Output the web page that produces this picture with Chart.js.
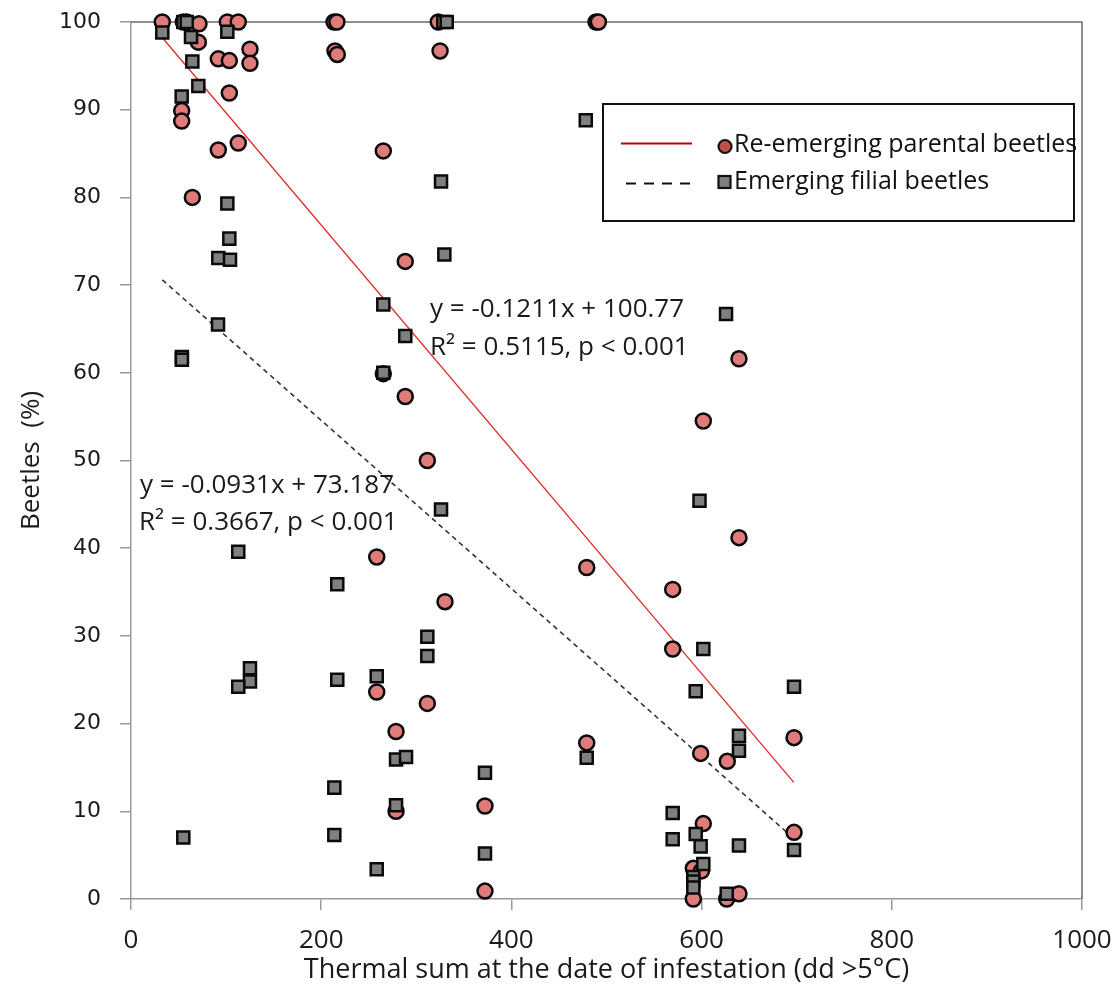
<!DOCTYPE html>
<html>
<head>
<meta charset="utf-8">
<script src="https://cdn.jsdelivr.net/npm/chart.js@4.4.0/dist/chart.umd.min.js"></script>
<style>
html,body{margin:0;padding:0;background:#fff;}
#c{display:block;}
</style>
</head>
<body>
<canvas id="c" width="1119" height="999"></canvas>
<script>
// ---- data ----
const parentalX = [32.9,55,58.6,71.5,101.3,112.8,213.5,216.5,323.1,489,491.5,70.8,91.8,103.4,125.1,125.1,103.4,112.8,91.8,64.5,53.3,53.3,214.5,216.9,325,265.3,288.4,265.3,288.4,311.6,258.4,330.2,258.4,311.6,278.7,278.7,479.2,479.2,372.2,372.2,639.3,601.8,639.3,569.6,569.6,697.2,599,627,601.8,697.2,591.3,599.9,591.3,626.4,639.3];
const parentalY = [100,100,100,99.8,100,100,100,100,100,100,100,97.7,95.8,95.6,96.9,95.3,91.9,86.2,85.4,80.0,89.9,88.7,96.7,96.3,96.7,85.3,72.7,59.9,57.3,50.0,39.0,33.9,23.6,22.3,19.1,10.0,37.8,17.8,10.6,0.9,61.6,54.5,41.2,35.3,28.5,18.4,16.6,15.7,8.6,7.6,3.5,3.2,0,0,0.6];
const filialX = [32.9,101.3,55,58.6,63.1,64.5,70.8,53.3,101.3,103.4,91.8,104.1,91.5,53.5,53.5,112.8,125.1,125.1,112.8,55,216.9,216.9,213.8,213.8,258.4,258.4,278.7,289.2,278.7,265.3,288.4,265.3,311.6,311.6,326,329.5,326,328.4,332,478.2,479.2,372.2,372.2,625.7,597.8,601.8,593.8,697.2,639.3,639.3,569.6,569.6,593.8,599,639.3,697.2,601.8,591.3,591.3,591.3,626.4];
const filialY = [98.8,98.9,100,100,98.3,95.5,92.7,91.5,79.3,75.3,73.1,72.9,65.5,61.8,61.5,39.6,26.3,24.8,24.2,7.0,35.9,25.0,12.7,7.3,25.4,3.4,15.9,16.2,10.7,67.8,64.2,60.0,29.9,27.7,81.8,73.5,44.4,100,100,88.8,16.1,14.4,5.2,66.7,45.4,28.5,23.7,24.2,18.6,16.9,9.8,6.8,7.4,6.0,6.1,5.6,4.0,2.5,2.0,1.3,0.6];
const trendX = [33, 697];
const parentalTrendY = [98.2, 13.3];
const filialTrendY = [70.6, 6.9];
const seriesLabels = ["Re-emerging parental beetles", "Emerging filial beetles"];
const parentalEquation = ["y = -0.1211x + 100.77", "R\u00B2 = 0.5115, p < 0.001"];
const filialEquation = ["y = -0.0931x + 73.187", "R\u00B2 = 0.3667, p < 0.001"];
const xTitle = "Thermal sum at the date of infestation (dd >5\u00B0C)";
const yTitle = "Beetles  (%)";

const pts = (xs, ys) => xs.map((x, i) => ({x: x, y: ys[i]}));

const TEXT_FONT = "'Open Sans', 'Liberation Sans', sans-serif";

const framePlugin = {
  id: 'frame',
  beforeDatasetsDraw(chart) {
    const {ctx, chartArea: a} = chart;
    ctx.save();
    ctx.strokeStyle = '#6a6a6a';
    ctx.lineWidth = 1.5;
    ctx.beginPath();
    ctx.moveTo(a.left, a.top);
    ctx.lineTo(a.right, a.top);
    ctx.lineTo(a.right, a.bottom);
    ctx.stroke();
    ctx.restore();
  },
  afterDraw(chart) {
    const {ctx} = chart;
    ctx.save();
    // equations
    ctx.fillStyle = '#1a1a1a';
    ctx.font = "26px " + TEXT_FONT;
    ctx.textBaseline = 'alphabetic';
    ctx.textAlign = 'left';
    ctx.fillText(parentalEquation[0], 430, 317);
    ctx.fillText(parentalEquation[1], 430, 355);
    ctx.fillText(filialEquation[0], 140, 493);
    ctx.fillText(filialEquation[1], 139, 530);

    // legend
    const bx = 603, by = 104, bw = 471, bh = 117;
    ctx.fillStyle = '#fff';
    ctx.fillRect(bx, by, bw, bh);
    ctx.strokeStyle = '#111';
    ctx.lineWidth = 2;
    ctx.strokeRect(bx, by, bw, bh);

    ctx.strokeStyle = '#c00000';
    ctx.lineWidth = 2;
    ctx.beginPath(); ctx.moveTo(621, 143.5); ctx.lineTo(692, 143.5); ctx.stroke();

    ctx.strokeStyle = '#111';
    ctx.setLineDash([10, 8]);
    ctx.beginPath(); ctx.moveTo(626, 183.5); ctx.lineTo(696, 183.5); ctx.stroke();
    ctx.setLineDash([]);

    ctx.fillStyle = '#c0504d';
    ctx.strokeStyle = '#111';
    ctx.lineWidth = 2.2;
    ctx.beginPath(); ctx.arc(725, 146.5, 6.5, 0, Math.PI * 2); ctx.fill(); ctx.stroke();

    ctx.fillStyle = '#7f7f7f';
    ctx.fillRect(718.5, 176, 12, 12);
    ctx.strokeRect(718.5, 176, 12, 12);

    ctx.fillStyle = '#111';
    ctx.font = "25px " + TEXT_FONT;
    ctx.fillText(seriesLabels[0], 734, 152);
    ctx.fillText(seriesLabels[1], 734, 189);
    ctx.restore();
  }
};

new Chart(document.getElementById('c'), {
  type: 'scatter',
  data: {
    datasets: [
      {
        label: seriesLabels[0],
        data: pts(parentalX, parentalY),
        pointStyle: 'circle',
        pointRadius: 7.5,
        backgroundColor: '#e07b7b',
        borderColor: '#0a0a0a',
        borderWidth: 2.5,
        clip: false,
        order: 1
      },
      {
        label: seriesLabels[1],
        data: pts(filialX, filialY),
        pointStyle: 'rect',
        pointRadius: 8.5,
        backgroundColor: '#7f7f7f',
        borderColor: '#0a0a0a',
        borderWidth: 2.5,
        clip: false,
        order: 0
      },
      {
        type: 'line',
        label: 'parental trend',
        data: pts(trendX, parentalTrendY),
        borderColor: '#e02a2a',
        borderWidth: 1.3,
        pointRadius: 0,
        fill: false,
        order: 3
      },
      {
        type: 'line',
        label: 'filial trend',
        data: pts(trendX, filialTrendY),
        borderColor: '#333',
        borderWidth: 1.6,
        borderDash: [5, 4],
        pointRadius: 0,
        fill: false,
        order: 2
      }
    ]
  },
  options: {
    responsive: false,
    animation: false,
    events: [],
    layout: {padding: {top: 22, right: 37, left: 0, bottom: 0}},
    plugins: {legend: {display: false}, tooltip: {enabled: false}},
    scales: {
      x: {
        type: 'linear', min: 0, max: 1000,
        ticks: {stepSize: 200, color: '#1a1a1a', font: {family: TEXT_FONT, size: 26}, padding: 15,
                callback: (v) => String(v)},
        grid: {drawOnChartArea: false, drawTicks: true, tickLength: 11, color: '#999', lineWidth: 1.5},
        border: {display: true, color: '#999', width: 1.5},
        title: {display: true, text: xTitle, color: '#1a1a1a', font: {family: TEXT_FONT, size: 27}, padding: {top: 0, bottom: 12}},
        afterFit(s) { s.height = 100; s.paddingLeft = 0; s.paddingRight = 0; }
      },
      y: {
        type: 'linear', min: 0, max: 100,
        ticks: {stepSize: 10, color: '#1a1a1a', font: {family: "'DejaVu Sans', Verdana, sans-serif", size: 22}, padding: 19},
        grid: {drawOnChartArea: false, drawTicks: true, tickLength: 11, color: '#999', lineWidth: 1.5},
        border: {display: true, color: '#999', width: 1.5},
        title: {display: true, text: yTitle, color: '#1a1a1a', font: {family: TEXT_FONT, size: 26}, padding: {top: 16, bottom: 0}},
        afterFit(s) { s.width = 131; s.paddingTop = 0; s.paddingBottom = 0; }
      }
    }
  },
  plugins: [framePlugin]
});
</script>
</body>
</html>
